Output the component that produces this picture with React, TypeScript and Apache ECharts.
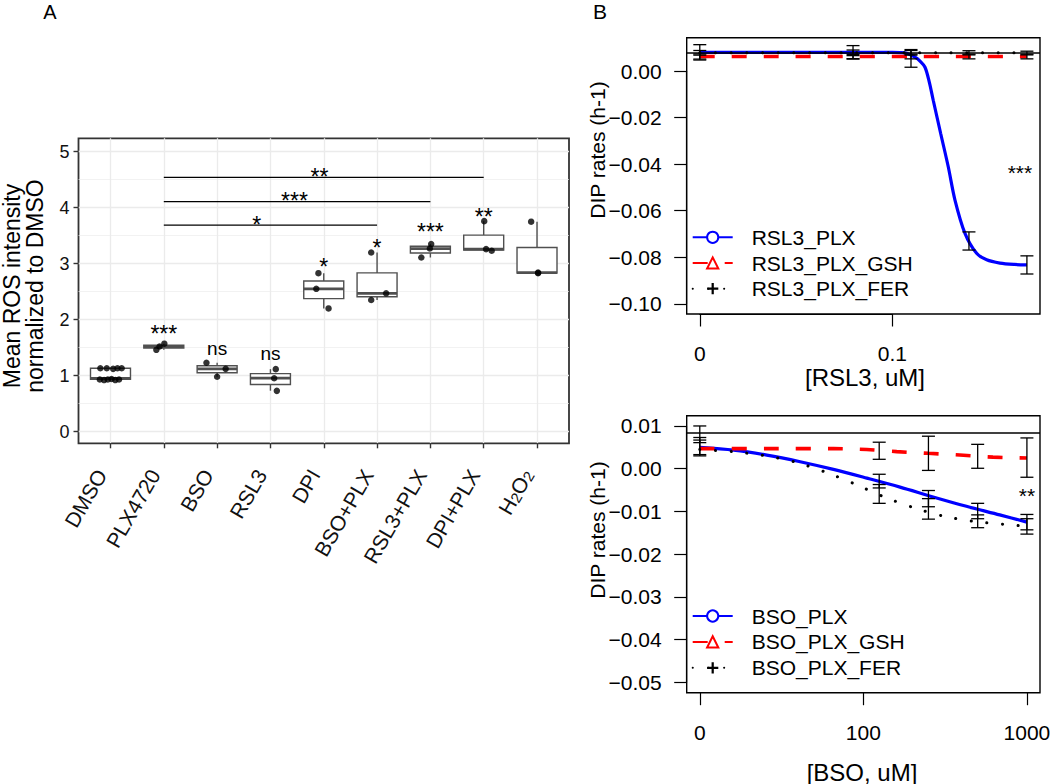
import React, { useEffect, useRef } from 'react';
import * as echarts from 'echarts';

const FONT = '"Liberation Sans", Arial, Helvetica, sans-serif';

// ---------------- Panel A : Mean ROS intensity ----------------
const categories = ['DMSO', 'PLX4720', 'BSO', 'RSL3', 'DPI', 'BSO+PLX', 'RSL3+PLX', 'DPI+PLX', 'H2O2'];
const boxMin = [0.92, 1.46, 0.98, 0.73, 2.2, 2.35, 3.11, 3.23, 2.83];
const boxQ1 = [0.935, 1.49, 1.05, 0.84, 2.375, 2.41, 3.19, 3.245, 2.83];
const boxMedian = [0.95, 1.52, 1.12, 0.955, 2.55, 2.47, 3.27, 3.26, 2.84];
const boxQ3 = [1.13, 1.545, 1.175, 1.035, 2.69, 2.835, 3.31, 3.51, 3.29];
const boxMax = [1.14, 1.57, 1.23, 1.115, 2.83, 3.2, 3.35, 3.76, 3.75];

const pointCategory = [0, 0, 0, 0, 0, 0, 0, 0, 0, 0, 0, 1, 1, 1, 2, 2, 2, 3, 3, 3, 4, 4, 4, 5, 5, 5, 6, 6, 6, 7, 7, 7, 8, 8, 8];
const pointValue = [1.13, 1.13, 1.12, 1.13, 1.13, 0.93, 0.92, 0.93, 0.94, 0.92, 0.93, 1.46, 1.52, 1.57, 1.23, 1.12, 0.98, 1.115, 0.953, 0.727, 2.83, 2.55, 2.2, 3.2, 2.47, 2.35, 3.35, 3.27, 3.11, 3.76, 3.26, 3.23, 3.75, 2.84, 2.83];
const pointJitter = [-0.19, -0.07, 0.05, 0.13, 0.21, -0.2, -0.12, -0.05, 0.02, 0.09, 0.16, -0.14, -0.08, 0.01, -0.2, 0.16, 0.0, 0.1, 0.07, 0.12, -0.1, -0.14, 0.09, -0.11, 0.17, -0.11, 0.015, -0.01, -0.17, 0.01, 0.045, 0.15, -0.11, 0.02, 0.02];

const groupLabel = ['', '***', 'ns', 'ns', '*', '*', '***', '**', ''];
const groupLabelY = [0, 1.85, 1.49, 1.39, 3.05, 3.38, 3.66, 3.94, 0];

const compStart = [1, 1, 1];
const compEnd = [5, 6, 7];
const compY = [3.69, 4.11, 4.54];
const compLabel = ['*', '***', '**'];
const compLabelX = [2.745, 3.45, 3.92];
const compLabelY = [3.8, 4.23, 4.655];

// ---------------- Panel B top : RSL3 ----------------
// dose 0 is drawn at 0.01 on the log axis
const rsl3Doses = [0.01, 0.0625, 0.125, 0.25, 0.5];
const rsl3TickValues = [0.01, 0.1];
const rsl3TickLabels = ['0', '0.1'];
const rsl3YTicks = [-0.1, 0];
const rsl3Control = 0.0081;

const rsl3PlxCurveX = [0.01, 0.05, 0.1, 0.1096, 0.1188, 0.1312, 0.1392, 0.1478, 0.1556, 0.1632, 0.1783, 0.1952, 0.2115, 0.2384, 0.274, 0.309, 0.3622, 0.43, 0.5];
const rsl3PlxCurveY = [0.0081, 0.0081, 0.0081, 0.008, 0.0077, 0.006, 0.0043, 0.0017, -0.0047, -0.0126, -0.0268, -0.0411, -0.0554, -0.0697, -0.0783, -0.0811, -0.0825, -0.0831, -0.0833];
const rsl3GshCurveX = [0.01, 0.5];
const rsl3GshCurveY = [0.0063, 0.0063];
const rsl3FerCurveX = [0.01, 0.5];
const rsl3FerCurveY = [0.0079, 0.0079];

const rsl3PlxMean = [0.0081, 0.0081, 0.0055, -0.073, -0.0833];
const rsl3PlxErr = [0.0033, 0.0029, 0.0038, 0.0039, 0.0039];
const rsl3GshMean = [0.0063, 0.0063, 0.0063, 0.0063, 0.0063];
const rsl3GshErr = [0.0011, 0.0009, 0.001, 0.001, 0.001];
const rsl3FerMean = [0.0079, 0.0079, 0.0079, 0.0079, 0.0078];
const rsl3FerErr = [0.001, 0.0012, 0.001, 0.0009, 0.0008];

const rsl3StarX = [0.46];
const rsl3StarY = [-0.0411];
const rsl3StarLabel = ['***'];

// ---------------- Panel B bottom : BSO ----------------
// dose 0 is drawn at 10 on the log axis
const bsoDoses = [10, 125, 250, 500, 1000];
const bsoTickValues = [10, 100, 1000];
const bsoTickLabels = ['0', '100', '1000'];
const bsoYTicks = [-0.05, 0.01];
const bsoControl = 0.0083;

const bsoPlxCurveX = [10, 16.1, 25.7, 41.1, 65.6, 105, 167.5, 267, 427, 682, 1000];
const bsoPlxCurveY = [0.005, 0.00436, 0.00319, 0.00164, -0.00016, -0.0022, -0.0043, -0.0066, -0.0088, -0.0108, -0.0125];
const bsoGshCurveX = [10, 30, 65.7, 105, 160, 249, 389, 620, 1000];
const bsoGshCurveY = [0.0047, 0.0047, 0.0047, 0.0045, 0.004, 0.0036, 0.0032, 0.0027, 0.0025];
const bsoFerCurveX = [10, 15.8, 24.6, 38.3, 58.7, 89, 134, 206, 318, 491, 771, 1000];
const bsoFerCurveY = [0.0045, 0.004, 0.0031, 0.00155, -0.0008, -0.0036, -0.0066, -0.0092, -0.0112, -0.0124, -0.0131, -0.0135];

const bsoPlxMean = [0.0067, -0.0029, -0.007, -0.0099, -0.0125];
const bsoPlxErr = [0.0006, 0.0016, 0.0019, 0.0018, 0.0018];
const bsoGshMean = [0.0065, 0.0042, 0.0036, 0.0029, 0.0026];
const bsoGshErr = [0.0035, 0.002, 0.004, 0.0028, 0.0046];
const bsoFerMean = [0.005, -0.0059, -0.0094, -0.0123, -0.0135];
const bsoFerErr = [0.0017, 0.0022, 0.0024, 0.0015, 0.0018];

const bsoStarX = [1000];
const bsoStarY = [-0.005];
const bsoStarLabel = ['**'];

// ---------------- layout (pixels / axis ranges) ----------------
const RECT_A = { left: 78.5, top: 138.3, width: 490.5, height: 305 };
const A_X: [number, number] = [-0.6, 8.6];
const A_Y: [number, number] = [-0.21, 5.24];
const RECT_B1 = { left: 686.7, top: 37.7, width: 353.3, height: 276.3 };
const RECT_B2 = { left: 686.7, top: 415.7, width: 353.3, height: 277 };
const B1_YLIM: [number, number] = [-0.1, 0.01];
const B2_YLIM: [number, number] = [-0.05, 0.01];

const expand = (lo: number, hi: number): [number, number] => {
  const d = (hi - lo) * 0.04;
  return [lo - d, hi + d];
};
const expandLog = (lo: number, hi: number): [number, number] => {
  const [a, b] = expand(Math.log10(lo), Math.log10(hi));
  return [Math.pow(10, a), Math.pow(10, b)];
};
const B1_X = expandLog(rsl3Doses[0], rsl3Doses[rsl3Doses.length - 1]);
const B1_Y = expand(B1_YLIM[0], B1_YLIM[1]);
const B2_X = expandLog(bsoDoses[0], bsoDoses[bsoDoses.length - 1]);
const B2_Y = expand(B2_YLIM[0], B2_YLIM[1]);

type Rect = { left: number; top: number; width: number; height: number };
const subRect = (r: Rect, xr: number[], yr: number[], xs: number[], ys: number[], xLog = false): Rect => {
  const f = (v: number) => (xLog ? Math.log10(v) : v);
  const x0 = f(xr[0]);
  const x1 = f(xr[1]);
  const left = r.left + ((f(xs[0]) - x0) / (x1 - x0)) * r.width;
  const right = r.left + ((f(xs[1]) - x0) / (x1 - x0)) * r.width;
  const top = r.top + ((yr[1] - ys[1]) / (yr[1] - yr[0])) * r.height;
  const bottom = r.top + ((yr[1] - ys[0]) / (yr[1] - yr[0])) * r.height;
  return { left, top, width: right - left, height: bottom - top };
};

const zip = (xs: number[], ys: number[]) => xs.map((x, i) => [x, ys[i]]);
const rateFmt = (v: number) => {
  if (Math.abs(v) < 1e-9) return '0.00';
  const s = Math.abs(v).toFixed(2);
  return v < 0 ? '\u2212' + s : s;
};
const logFmt = (vals: number[], labels: string[]) => (v: number) => {
  let best = 0;
  let bd = Infinity;
  vals.forEach((t, i) => {
    const d = Math.abs(Math.log10(v) - Math.log10(t));
    if (d < bd) {
      bd = d;
      best = i;
    }
  });
  return labels[best];
};

const PLUS = 'path://M4,0L6,0L6,4L10,4L10,6L6,6L6,10L4,10L4,6L0,6L0,4L4,4Z';

const textEl = (x: number, y: number, text: string, fontSize: number, extra: any = {}) => ({
  type: 'text',
  x,
  y,
  ...extra,
  style: {
    text,
    fill: '#000',
    font: `${fontSize}px ${FONT}`,
    align: 'center',
    verticalAlign: 'middle',
    textAlign: 'center',
    textVerticalAlign: 'middle',
  },
});

const annotationRender = (labels: string[], fontSize: number) => (params: any, api: any) => {
  const text = labels[params.dataIndex];
  const p = api.coord([api.value(0), api.value(1)]);
  const shift = /^\*+$/.test(text) ? fontSize * 0.25 : 0;
  return textEl(p[0], p[1] + shift, text, fontSize);
};

const errorBarRender = (params: any, api: any) => {
  const x = api.value(0);
  const m = api.value(1);
  const e = api.value(2);
  const t = api.coord([x, m + e]);
  const b = api.coord([x, m - e]);
  const cap = 6.5;
  const style = { stroke: '#000', lineWidth: 1.3 };
  return {
    type: 'group',
    children: [
      { type: 'line', shape: { x1: t[0], y1: t[1], x2: b[0], y2: b[1] }, style },
      { type: 'line', shape: { x1: t[0] - cap, y1: t[1], x2: t[0] + cap, y2: t[1] }, style },
      { type: 'line', shape: { x1: b[0] - cap, y1: b[1], x2: b[0] + cap, y2: b[1] }, style },
    ],
  };
};

const boxRender = (params: any, api: any) => {
  const x = api.value(0);
  const half = api.size([0.75, 0])[0] / 2;
  const pMin = api.coord([x, api.value(1)]);
  const pQ1 = api.coord([x, api.value(2)]);
  const pMed = api.coord([x, api.value(3)]);
  const pQ3 = api.coord([x, api.value(4)]);
  const pMax = api.coord([x, api.value(5)]);
  const stroke = '#505050';
  const style = { stroke, lineWidth: 1.4 };
  return {
    type: 'group',
    children: [
      { type: 'line', shape: { x1: pMax[0], y1: pMax[1], x2: pQ3[0], y2: pQ3[1] }, style },
      { type: 'line', shape: { x1: pQ1[0], y1: pQ1[1], x2: pMin[0], y2: pMin[1] }, style },
      {
        type: 'rect',
        shape: { x: pQ3[0] - half, y: pQ3[1], width: 2 * half, height: Math.max(pQ1[1] - pQ3[1], 0.5) },
        style: { fill: '#ffffff', stroke, lineWidth: 1.4 },
      },
      { type: 'line', shape: { x1: pMed[0] - half, y1: pMed[1], x2: pMed[0] + half, y2: pMed[1] }, style: { stroke, lineWidth: 2.8 } },
    ],
  };
};

const compRender = (params: any, api: any) => {
  const a = api.coord([api.value(0), api.value(2)]);
  const b = api.coord([api.value(1), api.value(2)]);
  return { type: 'line', shape: { x1: a[0], y1: a[1], x2: b[0], y2: b[1] }, style: { stroke: '#000', lineWidth: 1.3 } };
};

const hiddenAxis = (gridIndex: number, type: string, min: number, max: number) => ({
  type,
  gridIndex,
  min,
  max,
  show: false,
  ...(type === 'log' ? { logBase: 10 } : {}),
});

const controlLine = (value: number) => ({
  silent: true,
  symbol: ['none', 'none'],
  precision: 6,
  label: { show: false },
  lineStyle: { color: '#000', width: 1.6, type: 'solid' },
  data: [{ yAxis: value }],
});

const lineSeries = (name: string, ax: number, data: number[][], color: string, lineStyle: any, symbol: string, extra: any = {}) => ({
  type: 'line',
  name,
  xAxisIndex: ax,
  yAxisIndex: ax,
  data,
  smooth: 0.3,
  showSymbol: false,
  symbol,
  symbolSize: 10,
  color,
  itemStyle: { color },
  lineStyle: { color, ...lineStyle },
  silent: true,
  z: 3,
  ...extra,
});

const App: React.FC = () => {
  const ref = useRef<HTMLDivElement>(null);

  useEffect(() => {
    document.body.style.margin = '0';
    if (!ref.current) return;
    const chart = echarts.init(ref.current, null, { renderer: 'svg' });

    const gA_y = subRect(RECT_A, A_X, A_Y, A_X, [0, 5]);
    const gA_x = subRect(RECT_A, A_X, A_Y, [0, categories.length - 1], A_Y);
    const gB1_y = subRect(RECT_B1, B1_X, B1_Y, B1_X, rsl3YTicks, true);
    const gB1_x = subRect(RECT_B1, B1_X, B1_Y, [rsl3TickValues[0], rsl3TickValues[rsl3TickValues.length - 1]], B1_Y, true);
    const gB2_y = subRect(RECT_B2, B2_X, B2_Y, B2_X, bsoYTicks, true);
    const gB2_x = subRect(RECT_B2, B2_X, B2_Y, [bsoTickValues[0], bsoTickValues[bsoTickValues.length - 1]], B2_Y, true);

    const gridBase = { containLabel: false, outerBoundsMode: 'none' };
    const tickA = { show: true, length: 5, inside: false, lineStyle: { color: '#333333', width: 1.4 } };
    const tickB = { show: true, length: 12.5, inside: false, lineStyle: { color: '#000', width: 1.2 } };
    const labelB = { fontSize: 21, color: '#000', fontFamily: FONT };

    const boxData = categories.map((_, i) => [i, boxMin[i], boxQ1[i], boxMedian[i], boxQ3[i], boxMax[i]]);
    const pointData = pointValue.map((v, i) => [pointCategory[i] + pointJitter[i], v]);
    const groupIdx = groupLabel.map((l, i) => i).filter((i) => groupLabel[i] !== '');
    const groupData = groupIdx.map((i) => [i, groupLabelY[i]]);
    const groupTexts = groupIdx.map((i) => groupLabel[i]);
    const compData = compStart.map((s, i) => [s, compEnd[i], compY[i]]);
    const compTextData = compLabelX.map((x, i) => [x, compLabelY[i]]);

    const errRows = (doses: number[], means: number[][], errs: number[][]) => {
      const rows: number[][] = [];
      means.forEach((m, s) => doses.forEach((d, i) => rows.push([d, m[i], errs[s][i]])));
      return rows;
    };

    const option: any = {
      animation: false,
      backgroundColor: '#ffffff',
      textStyle: { fontFamily: FONT },
      grid: [
        { ...gridBase, ...RECT_A, show: true, borderColor: '#333333', borderWidth: 1.8, backgroundColor: 'transparent' },
        { ...gridBase, ...gA_y },
        { ...gridBase, ...gA_x },
        { ...gridBase, ...RECT_B1, show: true, borderColor: '#000', borderWidth: 1.4, backgroundColor: 'transparent' },
        { ...gridBase, ...gB1_y },
        { ...gridBase, ...gB1_x },
        { ...gridBase, ...RECT_B2, show: true, borderColor: '#000', borderWidth: 1.4, backgroundColor: 'transparent' },
        { ...gridBase, ...gB2_y },
        { ...gridBase, ...gB2_x },
      ],
      xAxis: [
        hiddenAxis(0, 'value', A_X[0], A_X[1]),
        hiddenAxis(1, 'value', 0, 1),
        {
          type: 'value',
          gridIndex: 2,
          min: 0,
          max: categories.length - 1,
          interval: 1,
          axisLine: { show: false },
          axisTick: tickA,
          splitLine: { show: true, lineStyle: { color: '#ebebeb', width: 1.3 } },
          axisLabel: {
            rotate: 60,
            align: 'right',
            verticalAlign: 'bottom',
            fontSize: 21,
            color: '#111111',
            fontFamily: FONT,
            margin: 33,
            formatter: (v: number) => {
              const name = categories[Math.round(v)] || '';
              return name === 'H2O2' ? 'H{sub|2}O{sub|2}' : name;
            },
            rich: {
              sub: { fontSize: 15, fontFamily: FONT, color: '#111111', verticalAlign: 'bottom', lineHeight: 15, padding: [9, 0, 0, 0] },
            },
          },
        },
        hiddenAxis(3, 'log', B1_X[0], B1_X[1]),
        hiddenAxis(4, 'value', 0, 1),
        {
          type: 'log',
          logBase: 10,
          gridIndex: 5,
          min: rsl3TickValues[0],
          max: rsl3TickValues[rsl3TickValues.length - 1],
          axisLine: { show: true, lineStyle: { color: '#000', width: 1.2 } },
          axisTick: tickB,
          minorTick: { show: false },
          splitLine: { show: false },
          axisLabel: { ...labelB, margin: 29, formatter: logFmt(rsl3TickValues, rsl3TickLabels) },
        },
        hiddenAxis(6, 'log', B2_X[0], B2_X[1]),
        hiddenAxis(7, 'value', 0, 1),
        {
          type: 'log',
          logBase: 10,
          gridIndex: 8,
          min: bsoTickValues[0],
          max: bsoTickValues[bsoTickValues.length - 1],
          axisLine: { show: true, lineStyle: { color: '#000', width: 1.2 } },
          axisTick: tickB,
          minorTick: { show: false },
          splitLine: { show: false },
          axisLabel: { ...labelB, margin: 29, formatter: logFmt(bsoTickValues, bsoTickLabels) },
        },
      ],
      yAxis: [
        hiddenAxis(0, 'value', A_Y[0], A_Y[1]),
        {
          type: 'value',
          gridIndex: 1,
          min: 0,
          max: 5,
          interval: 1,
          axisLine: { show: false },
          axisTick: tickA,
          axisLabel: { fontSize: 18, color: '#111111', fontFamily: FONT, margin: 9 },
          splitLine: { show: true, lineStyle: { color: '#ebebeb', width: 1.3 } },
          minorTick: { show: false, splitNumber: 2 },
          minorSplitLine: { show: true, lineStyle: { color: '#ededed', width: 0.7 } },
        },
        hiddenAxis(2, 'value', 0, 1),
        hiddenAxis(3, 'value', B1_Y[0], B1_Y[1]),
        {
          type: 'value',
          gridIndex: 4,
          min: rsl3YTicks[0],
          max: rsl3YTicks[1],
          interval: 0.02,
          axisLine: { show: true, lineStyle: { color: '#000', width: 1.2 } },
          axisTick: tickB,
          splitLine: { show: false },
          axisLabel: { ...labelB, margin: 25, formatter: rateFmt },
        },
        hiddenAxis(5, 'value', 0, 1),
        hiddenAxis(6, 'value', B2_Y[0], B2_Y[1]),
        {
          type: 'value',
          gridIndex: 7,
          min: bsoYTicks[0],
          max: bsoYTicks[1],
          interval: 0.01,
          axisLine: { show: true, lineStyle: { color: '#000', width: 1.2 } },
          axisTick: tickB,
          splitLine: { show: false },
          axisLabel: { ...labelB, margin: 25, formatter: rateFmt },
        },
        hiddenAxis(8, 'value', 0, 1),
      ],
      legend: [
        {
          data: ['RSL3_PLX', 'RSL3_PLX_GSH', 'RSL3_PLX_FER'],
          orient: 'vertical',
          left: 691.7,
          top: 226.3,
          padding: 0,
          itemWidth: 40,
          itemHeight: 14,
          itemGap: 3.7,
          selectedMode: false,
          textStyle: { fontSize: 21, lineHeight: 22, color: '#000', fontFamily: FONT, padding: [0, 0, 0, 14] },
        },
        {
          data: ['BSO_PLX', 'BSO_PLX_GSH', 'BSO_PLX_FER'],
          orient: 'vertical',
          left: 691.7,
          top: 605,
          padding: 0,
          itemWidth: 40,
          itemHeight: 14,
          itemGap: 3.9,
          selectedMode: false,
          textStyle: { fontSize: 21, lineHeight: 22, color: '#000', fontFamily: FONT, padding: [0, 0, 0, 14] },
        },
      ],
      series: [
        // ---- panel A ----
        { type: 'custom', coordinateSystem: 'cartesian2d', xAxisIndex: 0, yAxisIndex: 0, data: boxData, renderItem: boxRender, silent: true, z: 2 },
        { type: 'scatter', xAxisIndex: 0, yAxisIndex: 0, data: pointData, symbolSize: 6.5, itemStyle: { color: '#000' }, silent: true, z: 4 },
        { type: 'custom', coordinateSystem: 'cartesian2d', xAxisIndex: 0, yAxisIndex: 0, data: compData, renderItem: compRender, silent: true, z: 4 },
        { type: 'custom', coordinateSystem: 'cartesian2d', xAxisIndex: 0, yAxisIndex: 0, data: compTextData, renderItem: annotationRender(compLabel, 23), silent: true, z: 5 },
        {
          type: 'custom',
          coordinateSystem: 'cartesian2d',
          xAxisIndex: 0,
          yAxisIndex: 0,
          data: groupData,
          renderItem: (p: any, api: any) => {
            const t = groupTexts[p.dataIndex];
            return annotationRender(groupTexts, t === 'ns' ? 19 : 23)(p, api);
          },
          silent: true,
          z: 5,
        },
        // ---- panel B top ----
        lineSeries('RSL3_PLX', 3, zip(rsl3PlxCurveX, rsl3PlxCurveY), '#0000ff', { width: 3.2 }, 'emptyCircle', { markLine: controlLine(rsl3Control) }),
        lineSeries('RSL3_PLX_GSH', 3, zip(rsl3GshCurveX, rsl3GshCurveY), '#ff0000', { width: 3.6, type: [15, 17] }, 'emptyTriangle'),
        lineSeries('RSL3_PLX_FER', 3, zip(rsl3FerCurveX, rsl3FerCurveY), '#000000', { width: 3, type: [0.1, 15.6], cap: 'round' }, PLUS),
        { type: 'custom', coordinateSystem: 'cartesian2d', xAxisIndex: 3, yAxisIndex: 3, data: errRows(rsl3Doses, [rsl3PlxMean, rsl3GshMean, rsl3FerMean], [rsl3PlxErr, rsl3GshErr, rsl3FerErr]), renderItem: errorBarRender, silent: true, z: 5 },
        { type: 'custom', coordinateSystem: 'cartesian2d', xAxisIndex: 3, yAxisIndex: 3, data: zip(rsl3StarX, rsl3StarY), renderItem: annotationRender(rsl3StarLabel, 21), silent: true, z: 5 },
        // ---- panel B bottom ----
        lineSeries('BSO_PLX', 6, zip(bsoPlxCurveX, bsoPlxCurveY), '#0000ff', { width: 3.2 }, 'emptyCircle', { markLine: controlLine(bsoControl) }),
        lineSeries('BSO_PLX_GSH', 6, zip(bsoGshCurveX, bsoGshCurveY), '#ff0000', { width: 3.6, type: [15, 17] }, 'emptyTriangle'),
        lineSeries('BSO_PLX_FER', 6, zip(bsoFerCurveX, bsoFerCurveY), '#000000', { width: 3, type: [0.1, 15.6], cap: 'round' }, PLUS),
        { type: 'custom', coordinateSystem: 'cartesian2d', xAxisIndex: 6, yAxisIndex: 6, data: errRows(bsoDoses, [bsoPlxMean, bsoGshMean, bsoFerMean], [bsoPlxErr, bsoGshErr, bsoFerErr]), renderItem: errorBarRender, silent: true, z: 5 },
        { type: 'custom', coordinateSystem: 'cartesian2d', xAxisIndex: 6, yAxisIndex: 6, data: zip(bsoStarX, bsoStarY), renderItem: annotationRender(bsoStarLabel, 21), silent: true, z: 5 },
      ],
      graphic: [
        textEl(50, 12, 'A', 20),
        textEl(600, 11, 'B', 21),
        textEl(12, 286, 'Mean ROS intensity', 23, { rotation: Math.PI / 2 }),
        textEl(34.5, 286, 'normalized to DMSO', 23, { rotation: Math.PI / 2 }),
        textEl(597, 150, 'DIP rates (h-1)', 21, { rotation: Math.PI / 2 }),
        textEl(597, 530, 'DIP rates (h-1)', 21, { rotation: Math.PI / 2 }),
        textEl(865, 377, '[RSL3, uM]', 24),
        textEl(862, 772, '[BSO, uM]', 24),
      ],
    };

    chart.setOption(option);
    return () => chart.dispose();
  }, []);

  return <div ref={ref} style={{ width: 1050, height: 784 }} />;
};

export default App;
